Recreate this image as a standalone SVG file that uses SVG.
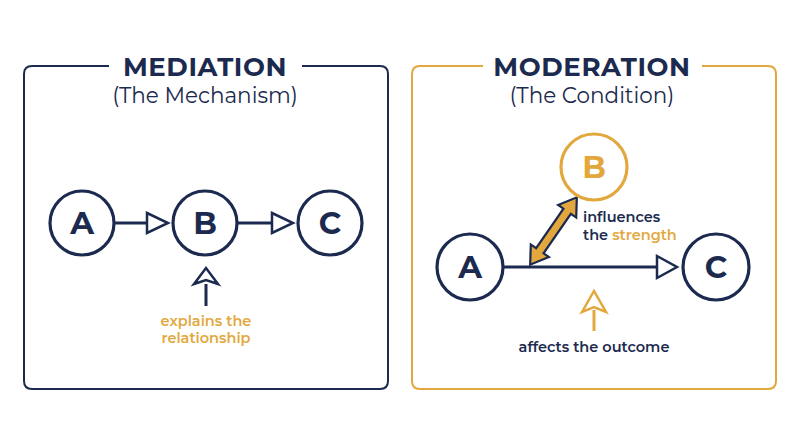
<svg xmlns="http://www.w3.org/2000/svg" width="800" height="447" viewBox="0 0 800 447">
<defs>
<style>
.navy{stroke:#1B2A4E;}
.frame{fill:none;stroke-width:2;}
.node{fill:#fff;stroke-width:3.2;}
.lbl{font-family:"Montserrat","Open Sans","Liberation Sans",sans-serif;font-weight:700;font-size:31px;text-anchor:middle;}
.title{font-family:"Montserrat","Open Sans","Liberation Sans",sans-serif;font-weight:700;font-size:26px;fill:#1B2A4E;text-anchor:middle;letter-spacing:0.6px;}
.sub{font-family:"Montserrat","Open Sans","Liberation Sans",sans-serif;font-weight:400;font-size:21.5px;fill:#1B2A4E;text-anchor:middle;}
.note{font-family:"Montserrat","Open Sans","Liberation Sans",sans-serif;font-weight:600;font-size:14.5px;}
.conn{fill:none;stroke-width:3;}
.head{fill:#fff;stroke-width:2.5;stroke-linejoin:miter;}
</style>
</defs>
<rect width="800" height="447" fill="#fff"/>

<g id="mediation-frame">
<path d="M109,66 H32 Q24,66 24,74 V381 Q24,389 32,389 H380 Q388,389 388,381 V74 Q388,66 380,66 H302" class="frame" stroke="#1B2A4E"/>
<text x="205" y="76" class="title">MEDIATION</text>
<text x="205" y="103" class="sub">(The Mechanism)</text>
</g>

<g id="moderation-frame">
<path d="M483,66 H420 Q412,66 412,74 V381 Q412,389 420,389 H768 Q776,389 776,381 V74 Q776,66 768,66 H702" class="frame" stroke="#E2A83E"/>
<text x="592" y="76" class="title">MODERATION</text>
<text x="592" y="103" class="sub">(The Condition)</text>
</g>

<g id="connectors">
<line x1="115" y1="223" x2="150" y2="223" class="conn navy"/>
<polygon points="147,213 168,223 147,233" class="head navy"/>
<line x1="238" y1="223" x2="275" y2="223" class="conn navy"/>
<polygon points="272,213 293,223 272,233" class="head navy"/>
<line x1="206" y1="284" x2="206" y2="306" class="conn navy"/>
<polygon points="194,284 206,268 218,284 206,280" class="head navy"/>

<line x1="503" y1="267" x2="660" y2="267" class="conn navy"/>
<polygon points="657,256 677,267 657,278" class="head navy"/>
<g transform="translate(553.5,231) rotate(-55.3)">
<polygon points="-41,0 -24,-11 -24,-4.5 24,-4.5 24,-11 41,0 24,11 24,4.5 -24,4.5 -24,11" fill="#E2A83E" stroke="#1B2A4E" stroke-width="2.2" stroke-linejoin="miter"/>
</g>
<line x1="594" y1="310" x2="594" y2="331" class="conn" stroke="#E2A83E"/>
<polygon points="582,312 594,291 606,312 594,307" class="head" stroke="#E2A83E"/>
</g>

<g id="med-A">
<circle cx="82" cy="223" r="32" class="node navy"/>
<text x="82" y="234" class="lbl" fill="#1B2A4E">A</text>
</g>
<g id="med-B">
<circle cx="205" cy="223" r="32" class="node navy"/>
<text x="205" y="234" class="lbl" fill="#1B2A4E">B</text>
</g>
<g id="med-C">
<circle cx="330" cy="223" r="32" class="node navy"/>
<text x="330" y="234" class="lbl" fill="#1B2A4E">C</text>
</g>
<g id="med-note">
<text x="206" y="326" class="note" fill="#E2A83E" text-anchor="middle">explains the</text>
<text x="206" y="343" class="note" fill="#E2A83E" text-anchor="middle">relationship</text>
</g>

<g id="mod-A">
<circle cx="470" cy="267" r="33" class="node navy"/>
<text x="470" y="278" class="lbl" fill="#1B2A4E">A</text>
</g>
<g id="mod-B">
<circle cx="594" cy="167" r="33" class="node" stroke="#E2A83E"/>
<text x="594" y="178" class="lbl" fill="#E2A83E">B</text>
</g>
<g id="mod-C">
<circle cx="716" cy="267" r="33" class="node navy"/>
<text x="716" y="278" class="lbl" fill="#1B2A4E">C</text>
</g>
<g id="mod-notes">
<text x="583" y="222" class="note" fill="#1B2A4E" font-size="15">influences</text>
<text x="583" y="240" class="note" fill="#1B2A4E" font-size="15">the <tspan fill="#E2A83E">strength</tspan></text>
<text x="594" y="352" class="note" fill="#1B2A4E" text-anchor="middle">affects the outcome</text>
</g>
</svg>
